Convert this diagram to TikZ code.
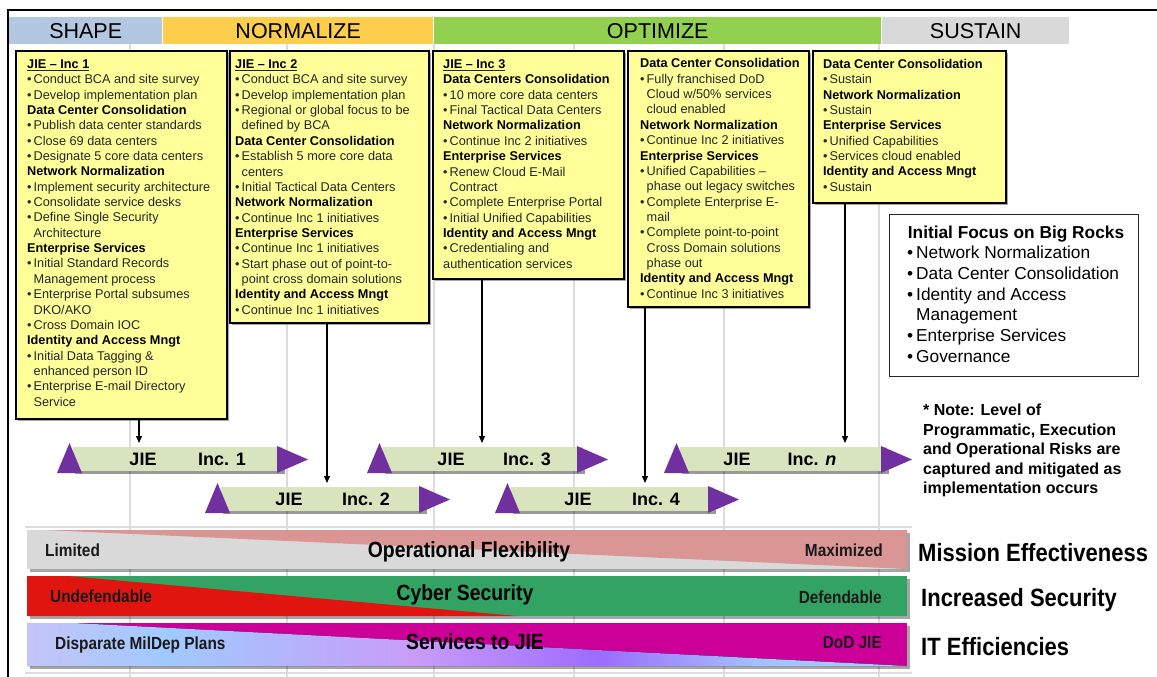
\documentclass[tikz,border=0pt]{standalone}
\usepackage{fontspec}
\usepackage{graphicx}
\setmainfont{Liberation Sans}
\usetikzlibrary{shadows,arrows.meta}
\definecolor{shapec}{HTML}{B4C7E0}
\definecolor{normc}{HTML}{FCCE4C}
\definecolor{optc}{HTML}{92D050}
\definecolor{susc}{HTML}{D9D9D9}
\definecolor{boxy}{HTML}{FFFF99}
\definecolor{barg}{HTML}{D7E4BD}
\definecolor{purp}{HTML}{7030A0}
\definecolor{gridc}{HTML}{DCDCDC}
\definecolor{flexg}{HTML}{D9D9D9}
\definecolor{flexp}{HTML}{DA9694}
\definecolor{secg}{HTML}{33A363}
\definecolor{secr}{HTML}{E0150F}
\definecolor{itm}{HTML}{CC0099}
\definecolor{itA}{HTML}{C4C4F8}
\definecolor{itB}{HTML}{A0CAFF}
\definecolor{itC}{HTML}{C99CF8}
\definecolor{itD}{HTML}{9C6CFF}
\definecolor{itE}{HTML}{A2C2FF}
\definecolor{itF}{HTML}{A8CCFF}
\pgfdeclarehorizontalshading{itgrad}{100bp}{color(0bp)=(itA); color(25bp)=(itA); color(33bp)=(itB); color(47bp)=(itC); color(57.5bp)=(itD); color(66.5bp)=(itE); color(75bp)=(itF); color(100bp)=(itF)}
\newcommand{\myhd}[1]{{\color{black}\bfseries #1}}
\newcommand{\mybu}[1]{\makebox[6.5pt][l]{\textbullet}#1}
\newcommand{\mycu}[1]{\hspace*{6.5pt}#1}
\newcommand{\rbu}[1]{\makebox[9pt][l]{\textbullet}#1}
\newcommand{\rcu}[1]{\hspace*{9pt}#1}
\newcommand{\cond}[2]{\scalebox{#1}[1]{#2}}
\newcommand{\jiearrow}[7]{%
  \node[jbar, minimum width={#3-#2-10}] (#1) at ({#2+16},#4) {};
  \fill[purp] (#2,{#4+26}) -- ({#2+25},{#4+26}) -- ({#2+12.5},{#4-4}) -- cycle;
  \fill[purp] (#3,{#4-1}) -- (#3,{#4+26}) -- ({#3+31},{#4+12.5}) -- cycle;
  \node[jlab] (#1-jie) at (#5,{#4+12.5}) {JIE};
  \node[jlab] (#1-inc) at (#6,{#4+12.5}) {#7};
}
\begin{document}
\begin{tikzpicture}[x=1pt,y=-1pt,
  gridl/.style={draw=gridc, line width=1.3pt},
  band/.style={anchor=north west, inner sep=0, minimum height=27pt, font=\fontsize{21.5}{24}\selectfont},
  ybox/.style={draw=black, line width=1.6pt, fill=boxy, anchor=north west, inner sep=0,
    drop shadow={shadow xshift=2pt, shadow yshift=-2pt, opacity=0.35, fill=black}},
  ytext/.style={anchor=north west, inner sep=0, align=left, text=black!85,
    font=\fontsize{12.7}{15.35}\selectfont},
  darr/.style={-{Triangle[length=7pt,width=6pt]}, line width=1.1pt, shorten >=4pt},
  jbar/.style={fill=barg, anchor=north west, inner sep=0, minimum height=24pt,
    drop shadow={shadow xshift=2pt, shadow yshift=-2.5pt, opacity=0.4, fill=black}},
  jlab/.style={inner sep=0, font=\fontsize{18}{20}\selectfont\bfseries},
  slab/.style={inner sep=0, font=\fontsize{17.5}{20}\selectfont\bfseries, text=black!90},
  blab/.style={inner sep=0, font=\fontsize{22}{24}\selectfont\bfseries},
  rlab/.style={inner sep=0, anchor=west, font=\fontsize{25}{28}\selectfont\bfseries},
  bshadow/.style={drop shadow={shadow xshift=3pt, shadow yshift=-3pt, opacity=0.35, fill=black}}
]
\useasboundingbox (0,0) rectangle (1157,677);
\fill[white] (0,0) rectangle (1157,677);

% grid
\foreach \gx in {130,287,434,574,724,879} \draw[gridl] (\gx,44) -- (\gx,677);
\draw[gridl] (25,527) -- (912,527);
\draw[gridl] (25,673) -- (912,673);

% frame
\draw[line width=2pt] (8,677) -- (8,10) -- (1157,10);

% header bands
\node[band, fill=shapec, minimum width=153pt] (hshape) at (9,17) {SHAPE};
\node[band, fill=normc, minimum width=270pt] (hnorm) at (163,17) {NORMALIZE};
\node[band, fill=optc, minimum width=447pt] (hopt) at (434,17) {OPTIMIZE};
\node[band, fill=susc, minimum width=187pt] (hsus) at (882,17) {SUSTAIN};

% yellow boxes
\node[ybox, minimum width=211pt, minimum height=368pt] (b1) at (15,50) {};
\node[ytext] (t1) at (27,59.5) {\underline{\myhd{JIE – Inc 1}}\\
\mybu{Conduct BCA and site survey}\\
\mybu{Develop implementation plan}\\
\myhd{Data Center Consolidation}\\
\mybu{Publish data center standards}\\
\mybu{Close 69 data centers}\\
\mybu{Designate 5 core data centers}\\
\myhd{Network Normalization}\\
\mybu{Implement security architecture}\\
\mybu{Consolidate service desks}\\
\mybu{Define Single Security}\\
\mycu{Architecture}\\
\myhd{Enterprise Services}\\
\mybu{Initial Standard Records}\\
\mycu{Management process}\\
\mybu{Enterprise Portal subsumes}\\
\mycu{DKO/AKO}\\
\mybu{Cross Domain IOC}\\
\myhd{Identity and Access Mngt}\\
\mybu{Initial Data Tagging \&}\\
\mycu{enhanced person ID}\\
\mybu{Enterprise E-mail Directory}\\
\mycu{Service}};

\node[ybox, minimum width=199pt, minimum height=272pt] (b2) at (229,50) {};
\node[ytext] (t2) at (235,59.5) {\underline{\myhd{JIE – Inc 2}}\\
\mybu{Conduct BCA and site survey}\\
\mybu{Develop implementation plan}\\
\mybu{Regional or global focus to be}\\
\mycu{defined by BCA}\\
\myhd{Data Center Consolidation}\\
\mybu{Establish 5 more core data}\\
\mycu{centers}\\
\mybu{Initial Tactical Data Centers}\\
\myhd{Network Normalization}\\
\mybu{Continue Inc 1 initiatives}\\
\myhd{Enterprise Services}\\
\mybu{Continue Inc 1 initiatives}\\
\mybu{Start phase out of point-to-}\\
\mycu{point cross domain solutions}\\
\myhd{Identity and Access Mngt}\\
\mybu{Continue Inc 1 initiatives}};

\node[ybox, minimum width=191pt, minimum height=228pt] (b3) at (432,50) {};
\node[ytext] (t3) at (443,59.5) {\underline{\myhd{JIE – Inc 3}}\\
\myhd{Data Centers Consolidation}\\
\mybu{10 more core data centers}\\
\mybu{Final Tactical Data Centers}\\
\myhd{Network Normalization}\\
\mybu{Continue Inc 2 initiatives}\\
\myhd{Enterprise Services}\\
\mybu{Renew Cloud E-Mail}\\
\mycu{Contract}\\
\mybu{Complete Enterprise Portal}\\
\mybu{Initial Unified Capabilities}\\
\myhd{Identity and Access Mngt}\\
\mybu{Credentialing and}\\
authentication services};

\node[ybox, minimum width=181pt, minimum height=256pt] (b4) at (627,50) {};
\node[ytext] (t4) at (640,58.5) {\myhd{Data Center Consolidation}\\
\mybu{Fully franchised DoD}\\
\mycu{Cloud w/50\% services}\\
\mycu{cloud enabled}\\
\myhd{Network Normalization}\\
\mybu{Continue Inc 2 initiatives}\\
\myhd{Enterprise Services}\\
\mybu{Unified Capabilities –}\\
\mycu{phase out legacy switches}\\
\mybu{Complete Enterprise E-}\\
\mycu{mail}\\
\mybu{Complete point-to-point}\\
\mycu{Cross Domain solutions}\\
\mycu{phase out}\\
\myhd{Identity and Access Mngt}\\
\mybu{Continue Inc 3 initiatives}};

\node[ybox, minimum width=193pt, minimum height=152pt] (b5) at (812,50) {};
\node[ytext] (t5) at (823,59) {\myhd{Data Center Consolidation}\\
\mybu{Sustain}\\
\myhd{Network Normalization}\\
\mybu{Sustain}\\
\myhd{Enterprise Services}\\
\mybu{Unified Capabilities}\\
\mybu{Services cloud enabled}\\
\myhd{Identity and Access Mngt}\\
\mybu{Sustain}};

% Big rocks box
\node[draw=black!85, line width=1.4pt, fill=white, anchor=north west, inner sep=0,
  minimum width=249pt, minimum height=162pt] (rocks) at (889,214) {};
\node[anchor=base, inner sep=0, font=\fontsize{17.3}{20.8}\selectfont\bfseries] (rtitle) at (1016,238.2) {Initial Focus on Big Rocks};
\node[anchor=north west, inner sep=0, align=left, font=\fontsize{17.3}{20.8}\selectfont] (rlist) at (907,245.8) {\rbu{Network Normalization}\\
\rbu{Data Center Consolidation}\\
\rbu{Identity and Access}\\
\rcu{Management}\\
\rbu{Enterprise Services}\\
\rbu{Governance}};

% note
\node[anchor=north west, inner sep=0, align=left, font=\fontsize{16}{19.5}\selectfont\bfseries] (note) at (923,404) {* Note: Level of\\
Programmatic, Execution\\
and Operational Risks are\\
captured and mitigated as\\
implementation occurs};

% JIE arrows
\jiearrow{inc1}{57}{277}{447}{143}{222}{Inc. 1}
\jiearrow{inc2}{205}{419}{487}{289}{366}{Inc. 2}
\jiearrow{inc3}{367}{577}{447}{451}{527}{Inc. 3}
\jiearrow{inc4}{495}{708}{487}{578}{656}{Inc. 4}
\jiearrow{incn}{664}{881}{447}{737}{812}{Inc. \textit{n}}

% connectors
\coordinate (a1) at (139,0);
\coordinate (a2) at (327,0);
\coordinate (a3) at (482,0);
\coordinate (a4) at (645,0);
\coordinate (a5) at (845,0);
\draw[darr] (a1 |- b1.south) -- (a1 |- inc1.north);
\draw[darr] (a2 |- b2.south) -- (a2 |- inc2.north);
\draw[darr] (a3 |- b3.south) -- (a3 |- inc3.north);
\draw[darr] (a4 |- b4.south) -- (a4 |- inc4.north);
\draw[darr] (a5 |- b5.south) -- (a5 |- incn.north);

% bottom bars
\fill[flexg, bshadow] (27,530) rectangle (907,569);
\fill[flexp] (44,530) -- (907,530) -- (907,569) -- cycle;
\fill[secg, bshadow] (27,576) rectangle (907,616);
\fill[secr] (27,576) -- (68,576) -- (517,616) -- (27,616) -- cycle;
\fill[itm, bshadow] (27,623) rectangle (907,666);
\fill[shading=itgrad] (27,623) -- (74,623) -- (907,666) -- (27,666) -- cycle;

\node[slab, anchor=west] (lim) at (45,550) {\cond{0.88}{Limited}};
\node[blab] (opf) at (469,552) {\cond{0.88}{Operational Flexibility}};
\node[slab, anchor=east] (max) at (883,550) {\cond{0.88}{Maximized}};
\node[slab, anchor=west] (und) at (50,596) {\cond{0.88}{Undefendable}};
\node[blab] (cys) at (465,595) {\cond{0.88}{Cyber Security}};
\node[slab, anchor=east] (def) at (882,597) {\cond{0.88}{Defendable}};
\node[slab, anchor=west] (dmp) at (55,645) {\cond{0.88}{Disparate MilDep Plans}};
\node[blab] (stj) at (475,642) {\cond{0.88}{Services to JIE}};
\node[slab, anchor=east] (dod) at (882,643) {\cond{0.88}{DoD JIE}};

\node[rlab] (me) at (918,553) {\cond{0.88}{Mission Effectiveness}};
\node[rlab] (is) at (921,600) {\cond{0.88}{Increased Security}};
\node[rlab] (ite) at (921,647) {\cond{0.88}{IT Efficiencies}};
\end{tikzpicture}
\end{document}
